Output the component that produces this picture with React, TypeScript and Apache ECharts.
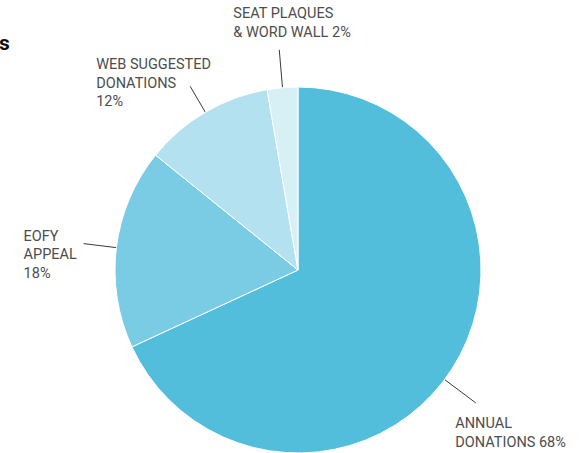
import React, { useEffect, useRef } from "react";
import * as echarts from "echarts";

const categories = [
  "ANNUAL\nDONATIONS 68%",
  "EOFY\nAPPEAL\n18%",
  "WEB SUGGESTED\nDONATIONS\n12%",
  "SEAT PLAQUES\n& WORD WALL 2%",
];
// slice sizes as drawn in the picture
const values = [68.1, 17.7, 11.5, 2.7];
const colors = ["#53BEDC", "#7ACCE4", "#B3E1EF", "#D7F0F6"];
const lineLengths = [39, 33, 30, 38];
// extra rotation (degrees, clockwise) of each label line
const lineAngleShift = [4.2, 0, 0, 0];
// label box top-left offset relative to label line end
const labelOffsets = [
  [-20.5, 11.5],
  [-60, -16.5],
  [-94, -31],
  [-46, -45.5],
];

const CENTER = [298, 270];

export default function App() {
  const ref = useRef<HTMLDivElement>(null);
  useEffect(() => {
    if (!ref.current) return;
    const chart = echarts.init(ref.current, null, { renderer: "svg" });
    chart.setOption({
      animation: false,
      backgroundColor: "#ffffff",
      graphic: [
        {
          type: "text",
          left: -1,
          top: 32,
          style: {
            text: "s",
            font: "bold 21px Roboto",
            fill: "#111111",
          },
        },
      ],
      series: [
        {
          type: "pie",
          center: CENTER,
          radius: 183,
          startAngle: 90,
          clockwise: true,
          avoidLabelOverlap: false,
          itemStyle: { borderColor: "#ffffff", borderWidth: 1 },
          label: {
            show: true,
            position: "outside",
            color: "#4d4d4d",
            fontFamily: "Roboto",
            fontSize: 14.5,
            lineHeight: 18.5,
            align: "left",
          },
          labelLine: {
            show: true,
            length2: 0,
            smooth: false,
            lineStyle: { color: "#3a3a3a", width: 1 },
          },
          emphasis: { disabled: true },
          labelLayout: (params: any) => {
            let pts = params.labelLinePoints;
            if (!pts) return {};
            const shift = (lineAngleShift[params.dataIndex] * Math.PI) / 180;
            if (shift) {
              const c = Math.cos(shift);
              const s = Math.sin(shift);
              pts = pts.map((p: number[]) => {
                const dx = p[0] - CENTER[0];
                const dy = p[1] - CENTER[1];
                return [CENTER[0] + dx * c - dy * s, CENTER[1] + dx * s + dy * c];
              });
            }
            const end = pts[pts.length - 1];
            const off = labelOffsets[params.dataIndex];
            return {
              x: end[0] + off[0],
              y: end[1] + off[1],
              align: "left",
              verticalAlign: "top",
              labelLinePoints: pts,
            };
          },
          data: values.map((v, i) => ({
            value: v,
            name: categories[i],
            itemStyle: { color: colors[i] },
            labelLine: { length: lineLengths[i], length2: 0 },
          })),
        },
      ],
    });
    return () => chart.dispose();
  }, []);
  return (
    <div
      ref={ref}
      style={{ position: "fixed", left: 0, top: 0, width: 581, height: 453 }}
    />
  );
}
